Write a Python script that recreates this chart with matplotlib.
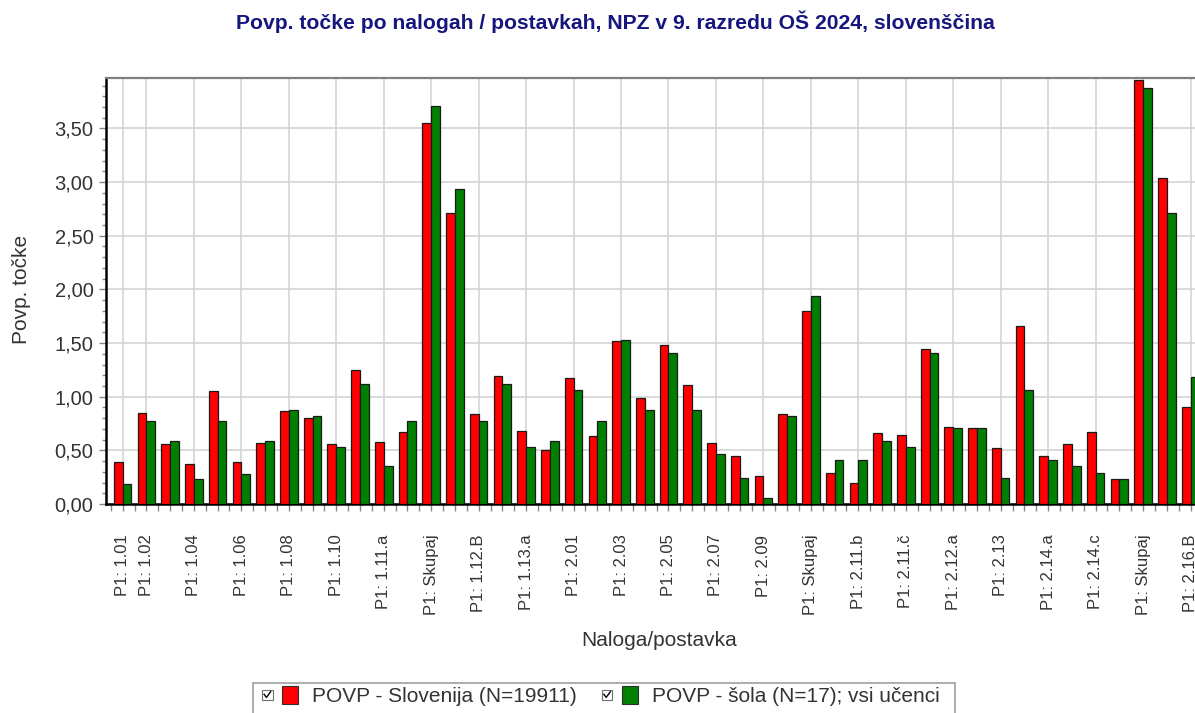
import matplotlib
matplotlib.use("Agg")
import matplotlib.pyplot as plt
import numpy as np
from matplotlib.patches import Rectangle, Patch
from matplotlib.lines import Line2D
from matplotlib.legend_handler import HandlerBase
from matplotlib.ticker import MultipleLocator, FuncFormatter, FixedLocator

# ---------------- data ----------------
categories = [
    "P1: 1.01", "P1: 1.02", "P1: 1.03", "P1: 1.04", "P1: 1.05", "P1: 1.06",
    "P1: 1.07", "P1: 1.08", "P1: 1.09", "P1: 1.10", "P1: 1.11", "P1: 1.11.a",
    "P1: 1.11.b", "P1: Skupaj", "P1: 1.12.A", "P1: 1.12.B", "P1: 1.13",
    "P1: 1.13.a", "P1: 1.13.b", "P1: 2.01", "P1: 2.02", "P1: 2.03", "P1: 2.04",
    "P1: 2.05", "P1: 2.06", "P1: 2.07", "P1: 2.08", "P1: 2.09", "P1: 2.10",
    "P1: Skupaj", "P1: 2.11.a", "P1: 2.11.b", "P1: 2.11.c", "P1: 2.11.č",
    "P1: 2.11.d", "P1: 2.12.a", "P1: 2.12.b", "P1: 2.13", "P1: 2.14",
    "P1: 2.14.a", "P1: 2.14.b", "P1: 2.14.c", "P1: 2.15", "P1: Skupaj",
    "P1: 2.16.A", "P1: 2.16.B",
]
slovenija = [
    0.39, 0.85, 0.56, 0.37, 1.05, 0.39, 0.57, 0.87, 0.80, 0.56, 1.25, 0.58,
    0.67, 3.55, 2.71, 0.84, 1.19, 0.68, 0.50, 1.17, 0.63, 1.52, 0.99, 1.48,
    1.11, 0.57, 0.45, 0.26, 0.84, 1.80, 0.29, 0.20, 0.66, 0.64, 1.44, 0.72,
    0.71, 0.52, 1.66, 0.45, 0.56, 0.67, 0.23, 3.95, 3.04, 0.90,
]
sola = [
    0.19, 0.77, 0.59, 0.23, 0.77, 0.28, 0.59, 0.88, 0.82, 0.53, 1.12, 0.35,
    0.77, 3.71, 2.94, 0.77, 1.12, 0.53, 0.59, 1.06, 0.77, 1.53, 0.88, 1.41,
    0.88, 0.47, 0.24, 0.06, 0.82, 1.94, 0.41, 0.41, 0.59, 0.53, 1.41, 0.71,
    0.71, 0.24, 1.06, 0.41, 0.35, 0.29, 0.23, 3.88, 2.71, 1.18,
]
series_labels = ["POVP - Slovenija (N=19911)", "POVP - šola (N=17); vsi učenci"]
title = "Povp. točke po nalogah / postavkah, NPZ v 9. razredu OŠ 2024, slovenščina"
xlabel = "Naloga/postavka"
ylabel = "Povp. točke"

# ---------------- style ----------------
plt.rcParams["font.family"] = ["Liberation Sans", "DejaVu Sans"]
RED = "#ff0000"
GREEN = "#008000"
GRID = "#d4d4d4"
TXT = "#333333"

W, H = 1195, 713
fig = plt.figure(figsize=(W / 100, H / 100), dpi=100)
fig.patch.set_facecolor("white")

px_left, px_top, px_bottom = 106, 78, 504
group_px = 23.73
x0_px = 122.7
xmin = (px_left - x0_px) / group_px
xmax = 45.7
px_right = x0_px + xmax * group_px
ax = fig.add_axes([px_left / W, 1 - px_bottom / H,
                   (px_right - px_left) / W, (px_bottom - px_top) / H])

x = np.arange(len(categories))
bw = 0.37
ax.bar(x - bw / 2, slovenija, width=bw, color=RED, edgecolor="#1a1a1a",
       linewidth=0.9, zorder=3)
ax.bar(x + bw / 2, sola, width=bw, color=GREEN, edgecolor="#1a1a1a",
       linewidth=0.9, zorder=3)

ax.set_xlim(xmin, xmax)
ax.set_ylim(0, 3.97)

# y axis
ax.yaxis.set_major_locator(MultipleLocator(0.5))
ax.yaxis.set_minor_locator(MultipleLocator(0.1))
ax.yaxis.set_major_formatter(FuncFormatter(lambda v, p: f"{v:.2f}".replace(".", ",")))
ax.tick_params(axis="y", which="major", length=5, width=1, color="#888888",
               labelsize=14.5, labelcolor=TXT, pad=4)
ax.tick_params(axis="y", which="minor", length=3, width=1, color="#888888")

# x axis: labels on first and every odd group
shown = [i for i in range(len(categories)) if i == 0 or i % 2 == 1]
ax.xaxis.set_major_locator(FixedLocator(shown))
ax.set_xticklabels([categories[i] for i in shown], rotation=90, fontsize=12,
                   color=TXT)
ax.xaxis.set_minor_locator(MultipleLocator(0.5))
ax.tick_params(axis="x", which="major", length=5, width=1, color="#888888",
               pad=17)
ax.tick_params(axis="x", which="minor", length=5, width=1, color="#888888")
for lab in ax.get_xticklabels():
    lab.set_va("top")
    lab.set_ha("center")

ax.grid(True, which="major", axis="both", color=GRID, linewidth=1.2, zorder=0)
ax.set_axisbelow(True)

for side in ["left", "bottom"]:
    ax.spines[side].set_color("black")
    ax.spines[side].set_linewidth(1.8)
ax.spines["top"].set_color("#808080")
ax.spines["top"].set_linewidth(1.6)
ax.spines["right"].set_visible(False)

# titles
fig.text(615 / W, 1 - 22 / H, title, ha="center", va="center", fontsize=15.2,
         fontweight="bold", color="#16167e")
fig.text(22 / W, 1 - 289 / H, ylabel, rotation=90, ha="center", va="center",
         fontsize=15, color=TXT)
fig.text(659 / W, 1 - 640 / H, xlabel, ha="center", va="center", fontsize=15,
         color=TXT)


# legend with check boxes
class CheckHandler(HandlerBase):
    def create_artists(self, legend, orig_handle, xdescent, ydescent, width,
                       height, fontsize, trans):
        sq = height
        cb = height * 0.6
        bx = -xdescent
        by = -ydescent + (height - cb) / 2
        box = Rectangle((bx, by), cb, cb, facecolor="white",
                        edgecolor="#707070", linewidth=0.8, transform=trans)
        chk = Line2D([bx + cb * 0.2, bx + cb * 0.42, bx + cb * 0.82],
                     [by + cb * 0.55, by + cb * 0.25, by + cb * 0.8],
                     color="black", linewidth=1.0, transform=trans)
        col = Rectangle((-xdescent + width - sq * 0.92, -ydescent), sq * 0.92, sq,
                        facecolor=orig_handle.get_facecolor(),
                        edgecolor="#303030", linewidth=0.8, transform=trans)
        return [box, chk, col]


handles = [Patch(facecolor=RED), Patch(facecolor=GREEN)]
fig.legend(handles, series_labels, loc="center left",
           bbox_to_anchor=(262 / W, 1 - 696 / H), ncol=2, frameon=False,
           fontsize=15, handlelength=1.75, handleheight=0.92,
           handletextpad=0.65, columnspacing=1.2, borderpad=0,
           borderaxespad=0, handler_map={Patch: CheckHandler()},
           labelcolor=TXT)
fig.add_artist(Rectangle((253 / W, -0.05), (955 - 253) / W, (H - 683) / H + 0.05,
                         transform=fig.transFigure, fill=False,
                         edgecolor="#a0a0a0", linewidth=1.2, clip_on=False))

fig.savefig("out.png", dpi=100)
